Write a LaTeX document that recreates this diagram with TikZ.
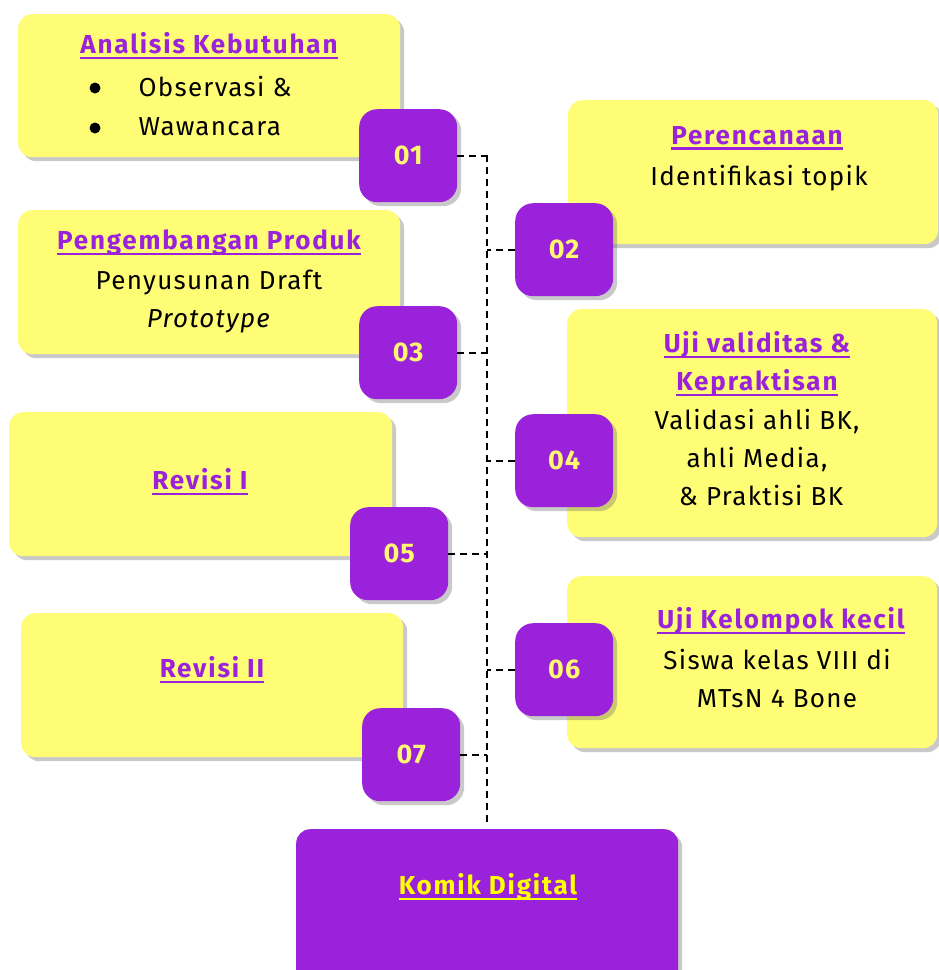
\documentclass[tikz,border=0pt]{standalone}
\usepackage{fontspec}
\setmainfont{Fira Sans}
\newsavebox\ulbox
\newcommand\myul[1]{\sbox\ulbox{#1}\rlap{\rule[-5.5pt]{\wd\ulbox}{2.6pt}}\usebox\ulbox}
\usetikzlibrary{shadows}
\definecolor{ylw}{HTML}{FFFD75}
\definecolor{prp}{HTML}{9B22DB}
\definecolor{ntxt}{HTML}{FFF870}
\definecolor{kom}{HTML}{FFFF00}
\tikzset{
  ybox/.style={fill=ylw, rounded corners=14pt, anchor=north west, inner sep=0pt,
    drop shadow={shadow xshift=4pt, shadow yshift=-4pt, opacity=0.35, fill=black!60}},
  badge/.style={fill=prp, rounded corners=18pt, anchor=north west, inner sep=0pt,
    minimum width=98pt, minimum height=93pt,
    drop shadow={shadow xshift=4pt, shadow yshift=-4pt, opacity=0.35, fill=black!60}},
  num/.style={text=ntxt, font=\fontsize{27}{30}\selectfont\bfseries\addfontfeature{LetterSpace=4}},
  ttl/.style={text=prp, font=\fontsize{26}{38}\selectfont\bfseries\addfontfeature{LetterSpace=7}, align=center},
  body/.style={text=black, font=\fontsize{26}{38}\selectfont\addfontfeature{LetterSpace=5}, align=center},
  conn/.style={draw=black, line width=1.8pt, dash pattern=on 7pt off 5pt},
}
\begin{document}
\begin{tikzpicture}[x=1pt, y=-1pt]
\clip (0,0) rectangle (939,970);
\fill[white] (0,0) rectangle (939,970);
% yellow boxes
\node[ybox, minimum width=382pt, minimum height=143pt] (y1) at (18,14) {};
\node[ybox, minimum width=370pt, minimum height=144pt] (y2) at (568,100) {};
\node[ybox, minimum width=382pt, minimum height=144pt] (y3) at (18,210) {};
\node[ybox, minimum width=370pt, minimum height=228pt] (y4) at (567,309) {};
\node[ybox, minimum width=383pt, minimum height=144pt] (y5) at (9,412) {};
\node[ybox, minimum width=370pt, minimum height=172pt] (y6) at (567,576) {};
\node[ybox, minimum width=382pt, minimum height=144pt] (y7) at (21,613) {};
% final box
\node[fill=prp, rounded corners=14pt, anchor=north west, inner sep=0pt,
  minimum width=382pt, minimum height=160pt,
  drop shadow={shadow xshift=4pt, shadow yshift=-4pt, opacity=0.35, fill=black!60}] (kd) at (296,829) {};
% spine
\coordinate (s1) at (487,155);
\coordinate (sbot) at (487,824);
\draw[conn] (s1) -- (sbot);
% badges
\node[badge] (b1) at (359,109) {};
\node[badge] (b2) at (515,203) {};
\node[badge] (b3) at (359,306) {};
\node[badge] (b4) at (515,414) {};
\node[badge] (b5) at (350,507) {};
\node[badge] (b6) at (515,623) {};
\node[badge] (b7) at (362,708) {};
\node[num] (n1) at (b1.center) {01};
\node[num] (n2) at (b2.center) {02};
\node[num] (n3) at (b3.center) {03};
\node[num] (n4) at (b4.center) {04};
\node[num] (n5) at (b5.center) {05};
\node[num] (n6) at (b6.center) {06};
\node[num] (n7) at (b7.center) {07};
% connectors
\draw[conn] (b1.east) -- (b1.east -| s1);
\draw[conn] (b2.west) -- (b2.west -| s1);
\draw[conn] (b3.east) -- (b3.east -| s1);
\draw[conn] (b4.west) -- (b4.west -| s1);
\draw[conn] (b5.east) -- (b5.east -| s1);
\draw[conn] (b6.west) -- (b6.west -| s1);
\draw[conn] (b7.east) -- (b7.east -| s1);
% texts
\node[ttl] (t1) at (209,46) {\myul{Analisis Kebutuhan}};
\fill[black] (95,88) circle (5.5pt);
\node[body, anchor=west] (t1a) at (135,87) {Observasi \&};
\fill[black] (95,128) circle (5.5pt);
\node[body, anchor=west] (t1b) at (135,127) {Wawancara};
\node[ttl] (t2) at (757,138) {\myul{Perencanaan}};
\node[body] (t2a) at (759,178) {Identifikasi topik};
\node[ttl] (t3) at (209,243) {\myul{Pengembangan Produk}};
\node[body] (t3a) at (209,302) {Penyusunan Draft\\ \textit{Prototype}};
\node[ttl] (t4) at (757,364) {\myul{Uji validitas \&}\\ \myul{Kepraktisan}};
\node[body] (t4a) at (757,458) {Validasi ahli BK,\\ ahli Media,\\ \hspace*{8pt}\& Praktisi BK};
\node[ttl] (t5) at (200,482) {\myul{Revisi I}};
\node[ttl] (t6) at (781,621) {\myul{Uji Kelompok kecil}};
\node[body] (t6a) at (777,679) {Siswa kelas VIII di\\ MTsN 4 Bone};
\node[ttl] (t7) at (212,670) {\myul{Revisi II}};
\node[ttl, text=kom] (t8) at (488,887) {\myul{Komik Digital}};
\end{tikzpicture}
\end{document}
